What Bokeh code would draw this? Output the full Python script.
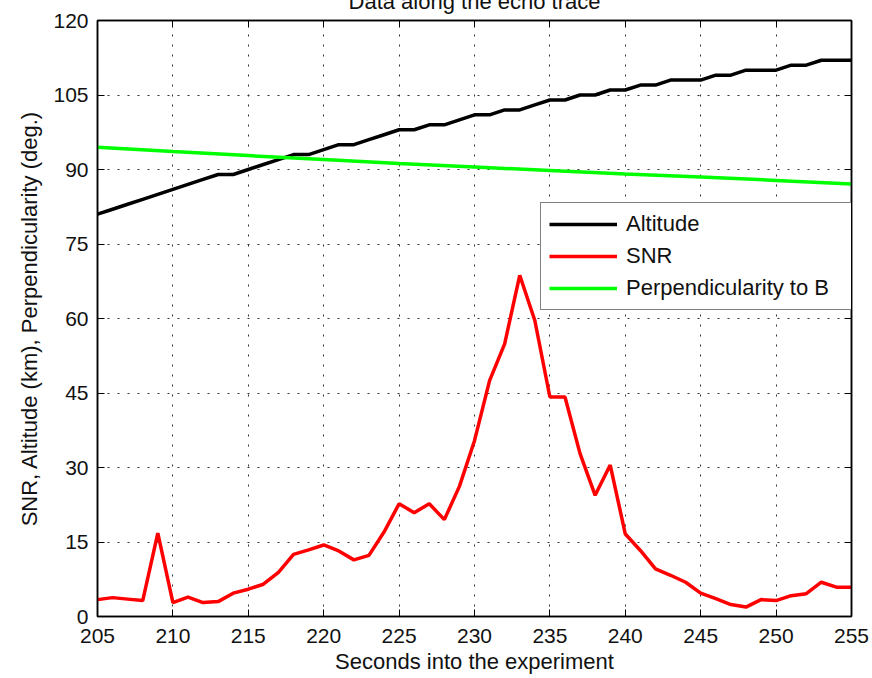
from bokeh.plotting import figure
from bokeh.models import Range1d, LinearAxis, FixedTicker, Legend, LegendItem
from bokeh.embed import file_html
from bokeh.resources import INLINE

# ---- data ----
seconds = [205, 206, 207, 208, 209, 210, 211, 212, 213, 214,
           215, 216, 217, 218, 219, 220, 221, 222, 223, 224,
           225, 226, 227, 228, 229, 230, 231, 232, 233, 234,
           235, 236, 237, 238, 239, 240, 241, 242, 243, 244,
           245, 246, 247, 248, 249, 250, 251, 252, 253, 254, 255]

altitude_km = [81, 82, 83, 84, 85, 86, 87, 88, 89, 89,
               90, 91, 92, 93, 93, 94, 95, 95, 96, 97,
               98, 98, 99, 99, 100, 101, 101, 102, 102, 103,
               104, 104, 105, 105, 106, 106, 107, 107, 108, 108,
               108, 109, 109, 110, 110, 110, 111, 111, 112, 112, 112]

snr = [3.4, 3.8, 3.5, 3.2, 16.8, 2.8, 3.9, 2.8, 3.0, 4.7,
       5.5, 6.5, 8.9, 12.5, 13.4, 14.4, 13.2, 11.4, 12.3, 17.0,
       22.7, 20.9, 22.7, 19.5, 26.2, 35.4, 47.5, 54.9, 68.7, 59.6,
       44.2, 44.2, 32.8, 24.4, 30.5, 16.6, 13.3, 9.6, 8.3, 6.9,
       4.7, 3.6, 2.4, 1.9, 3.4, 3.2, 4.2, 4.6, 6.9, 5.9, 5.9]

perp_seconds = [205, 210, 215, 220, 225, 230, 235, 240, 245, 250, 255]
perpendicularity = [94.5, 93.6, 92.8, 92.0, 91.2, 90.5, 89.8, 89.1, 88.5, 87.8, 87.1]

x_ticks = [205, 210, 215, 220, 225, 230, 235, 240, 245, 250, 255]
y_ticks = [0, 15, 30, 45, 60, 75, 90, 105, 120]

title_text = "Data along the echo trace"
x_label = "Seconds into the experiment"
y_label = "SNR, Altitude (km), Perpendicularity (deg.)"
series_names = ["Altitude", "SNR", "Perpendicularity to B"]

FONT = "Liberation Sans"
TXT = "#111111"
SHIFT = 60  # hidden strip above the page top (title is cut off in the reference)

p = figure(frame_width=754, frame_height=596,
           x_range=Range1d(205, 255), y_range=Range1d(0, 120),
           output_backend="svg", toolbar_location=None,
           min_border_left=97, min_border_right=21,
           min_border_top=20 + SHIFT, min_border_bottom=62,
           title=title_text)
p.margin = (-SHIFT, 0, 0, 0)
p.background_fill_color = "white"
p.border_fill_color = "white"
p.outline_line_color = "black"
p.outline_line_width = 1.5

p.title.align = "center"
p.title.text_font = FONT
p.title.text_font_size = "22px"
p.title.text_font_style = "normal"
p.title.text_color = TXT
p.title.standoff = 14

# axes
for ax, ticks in ((p.xaxis, x_ticks), (p.yaxis, y_ticks)):
    ax.ticker = FixedTicker(ticks=ticks)
    ax.major_tick_in = 7
    ax.major_tick_out = 0
    ax.minor_tick_in = 0
    ax.minor_tick_out = 0
    ax.axis_line_color = "black"
    ax.axis_line_width = 1.5
    ax.major_tick_line_color = "black"
    ax.major_tick_line_width = 1
    ax.major_label_text_font = FONT
    ax.major_label_text_font_size = "21px"
    ax.major_label_text_color = TXT
    ax.axis_label_text_font = FONT
    ax.axis_label_text_font_size = "22px"
    ax.axis_label_text_font_style = "normal"
    ax.axis_label_text_color = TXT

p.xaxis.axis_label = x_label
p.yaxis.axis_label = y_label
p.xaxis.major_label_standoff = 12
p.yaxis.major_label_standoff = 9
p.xaxis.axis_label_standoff = 3
p.yaxis.axis_label_standoff = 8

top = LinearAxis(ticker=FixedTicker(ticks=x_ticks), major_label_text_font_size="1px",
                 major_label_text_color=None,
                 major_tick_in=7, major_tick_out=0, minor_tick_in=0, minor_tick_out=0,
                 axis_line_color="black", axis_line_width=1.5, major_label_standoff=0)
right = LinearAxis(ticker=FixedTicker(ticks=y_ticks), major_label_text_font_size="1px",
                   major_label_text_color=None,
                   major_tick_in=7, major_tick_out=0, minor_tick_in=0, minor_tick_out=0,
                   axis_line_color="black", axis_line_width=1.5, major_label_standoff=0)
p.add_layout(top, "above")
p.add_layout(right, "right")

# grid
p.xgrid.ticker = FixedTicker(ticks=x_ticks)
p.ygrid.ticker = FixedTicker(ticks=y_ticks)
for g in (p.xgrid, p.ygrid):
    g.grid_line_color = "#333333"
    g.grid_line_dash = "2 8"
    g.grid_line_width = 1

# lines
r_alt = p.line(seconds, altitude_km, line_color="#000000", line_width=3.5)
r_snr = p.line(seconds, snr, line_color="#ff0000", line_width=3.5)
r_perp = p.line(perp_seconds, perpendicularity, line_color="#00ff00", line_width=3.5)

legend = Legend(items=[LegendItem(label=series_names[0], renderers=[r_alt]),
                       LegendItem(label=series_names[1], renderers=[r_snr]),
                       LegendItem(label=series_names[2], renderers=[r_perp])],
                location=(443, 306), orientation="vertical",
                border_line_color="black", border_line_width=1,
                background_fill_color="white", background_fill_alpha=1,
                padding=8, spacing=6, margin=0,
                glyph_width=68, glyph_height=22, label_height=22, label_width=218,
                label_standoff=9, label_text_font=FONT, label_text_font_size="22px",
                label_text_color=TXT)
p.add_layout(legend, "center")

open("out.html", "w").write(file_html(p, INLINE))
